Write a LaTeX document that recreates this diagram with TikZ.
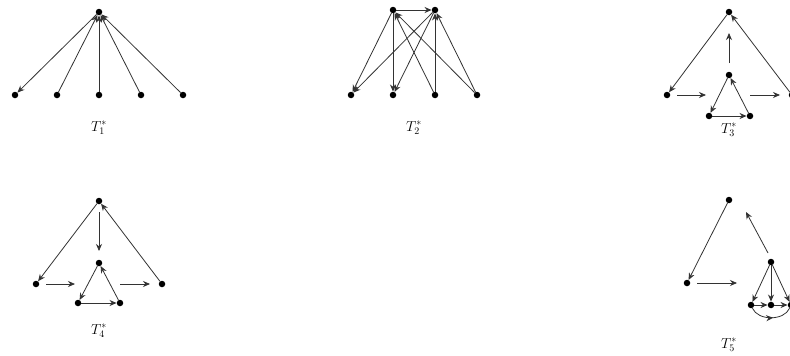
\documentclass[tikz,border=0pt]{standalone}
\usetikzlibrary{arrows.meta,decorations.markings}
\begin{document}
\begin{tikzpicture}[x=1pt,y=-1pt,
  dot/.style={circle, fill=black, inner sep=0pt, minimum size=6.5pt},
  arr/.style={draw=black!80, line width=0.8pt, -{Stealth[length=7pt,width=6pt]}},
  plain/.style={draw=black!80, line width=0.8pt},
  lab/.style={font=\fontsize{14}{16}\selectfont}]
\clip (0,0) rectangle (790,356);
\fill[white] (0,0) rectangle (790,356);
% ---------- T1 ----------
\node[dot] (a0) at (99,12) {};
\node[dot] (a1) at (15,95) {};
\node[dot] (a2) at (57,95) {};
\node[dot] (a3) at (99,95) {};
\node[dot] (a4) at (141,95) {};
\node[dot] (a5) at (183,95) {};
\draw[arr] (a0) -- (a1);
\draw[arr] (a2) -- (a0);
\draw[arr] (a3) -- (a0);
\draw[arr] (a4) -- (a0);
\draw[arr] (a5) -- (a0);
\node[lab] (l1) at (99,128) {$T_1^*$};
% ---------- T2 ----------
\node[dot] (b1) at (393,10) {};
\node[dot] (b2) at (435,10) {};
\node[dot] (c1) at (351,95) {};
\node[dot] (c2) at (393,95) {};
\node[dot] (c3) at (435,95) {};
\node[dot] (c4) at (477,95) {};
\draw[arr] (b1) -- (b2);
\draw[arr] (b1) -- (c1);
\draw[arr] (b1) -- (c2);
\draw[arr] (b2) -- (c1);
\draw[arr] (b2) -- (c2);
\draw[arr] (c3) -- (b1);
\draw[arr] (c3) -- (b2);
\draw[arr] (c4) -- (b1);
\draw[arr] (c4) -- (b2);
\node[lab] (l2) at (414,128) {$T_2^*$};
% ---------- T3 ----------
\node[dot] (d0) at (729,12) {};
\node[dot] (d1) at (667,95) {};
\node[dot] (d2) at (792,95) {};
\node[dot] (d3) at (729,75) {};
\node[dot] (d4) at (709,116) {};
\node[dot] (d5) at (750,116) {};
\draw[arr] (d0) -- (d1);
\draw[arr] (d2) -- (d0);
\draw[arr] (d3) -- (d4);
\draw[arr] (d4) -- (d5);
\draw[arr] (d5) -- (d3);
\coordinate (e1) at (729,63);
\coordinate (e2) at (729,33);
\coordinate (e3) at (677,95);
\coordinate (e4) at (706,95);
\coordinate (e5) at (750,95);
\coordinate (e6) at (780,95);
\draw[arr] (e1) -- (e2);
\draw[arr] (e3) -- (e4);
\draw[arr] (e5) -- (e6);
\node[lab] (l3) at (729,130) {$T_3^*$};
% ---------- T4 ----------
\node[dot] (f0) at (99,201) {};
\node[dot] (f1) at (36,284) {};
\node[dot] (f2) at (162,284) {};
\node[dot] (f3) at (99,263) {};
\node[dot] (f4) at (78,303) {};
\node[dot] (f5) at (120,303) {};
\draw[arr] (f0) -- (f1);
\draw[arr] (f2) -- (f0);
\draw[arr] (f3) -- (f4);
\draw[arr] (f4) -- (f5);
\draw[arr] (f5) -- (f3);
\coordinate (g1) at (99,212);
\coordinate (g2) at (99,251);
\coordinate (g3) at (46,284);
\coordinate (g4) at (75,284);
\coordinate (g5) at (120,284);
\coordinate (g6) at (150,284);
\draw[arr] (g1) -- (g2);
\draw[arr] (g3) -- (g4);
\draw[arr] (g5) -- (g6);
\node[lab] (l4) at (99,331) {$T_4^*$};
% ---------- T5 ----------
\node[dot] (h0) at (729,200) {};
\node[dot] (h1) at (687,283) {};
\node[dot] (h2) at (771,262) {};
\node[dot] (h3) at (751,305) {};
\node[dot] (h4) at (771,305) {};
\node[dot] (h5) at (791,305) {};
\draw[arr] (h0) -- (h1);
\draw[arr] (h2) -- (h3);
\draw[arr] (h2) -- (h4);
\draw[arr] (h2) -- (h5);
\draw[arr] (h3) -- (h4);
\draw[arr] (h4) -- (h5);
\draw[plain, postaction={decorate}, decoration={markings, mark=at position 0.55 with {\arrow{Stealth[length=7pt,width=6pt]}}}]
  (h3) .. controls (758,321) and (784,321) .. (h5);
\coordinate (k1) at (768,253);
\coordinate (k2) at (746,212);
\coordinate (k3) at (697,283);
\coordinate (k4) at (737,283);
\draw[arr] (k1) -- (k2);
\draw[arr] (k3) -- (k4);
\node[lab] (l5) at (729,345) {$T_5^*$};
\end{tikzpicture}
\end{document}
